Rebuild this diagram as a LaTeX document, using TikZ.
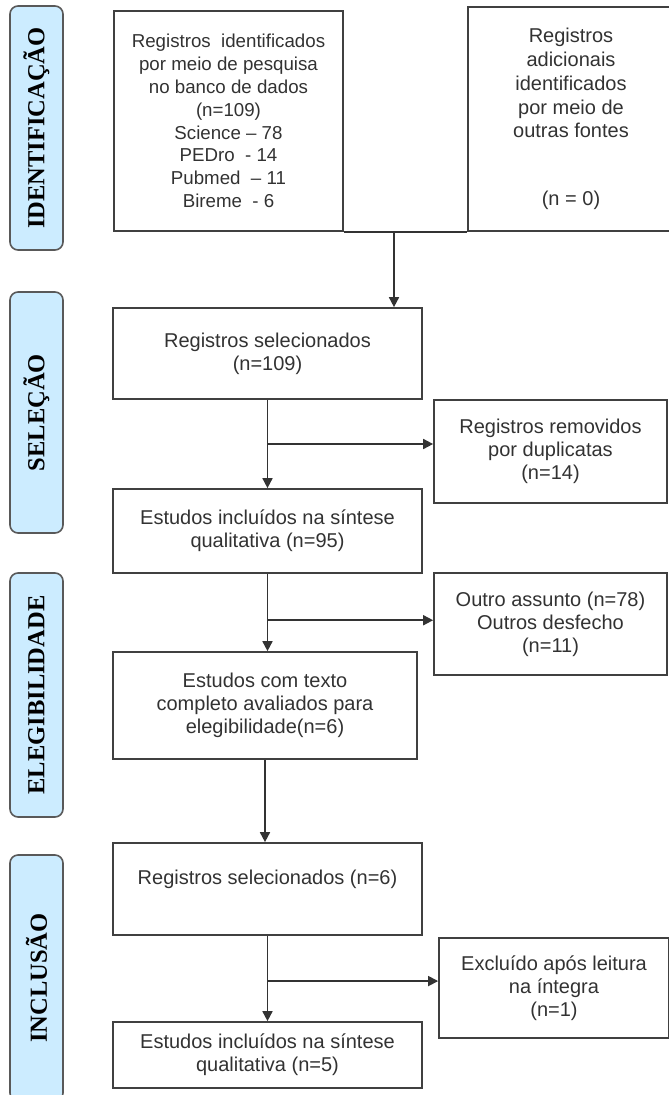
\documentclass[tikz,border=0pt]{standalone}
\usepackage{fontspec}
\setmainfont{Liberation Sans}
\newfontfamily\tabfont{Liberation Serif}
\usetikzlibrary{arrows.meta,calc}
\definecolor{tabblue}{RGB}{204,236,255}
\definecolor{txtgray}{RGB}{50,50,50}
\begin{document}
\begin{tikzpicture}[x=1pt,y=-1pt,>={Triangle[length=10pt,width=10pt]},
    box/.style={draw=black!75,line width=1.7pt,align=center,text=txtgray,font=\fontsize{20}{23}\selectfont},
    phase/.style={draw=black!65,line width=1.6pt,fill=tabblue,rounded corners=8pt,rotate=90,
        minimum height=53,font=\tabfont\bfseries\fontsize{24.5}{26}\selectfont}]
\clip (0,0) rectangle (669,1095);
% fases
\foreach \t/\y/\h [count=\i] in {IDENTIFICAÇÃO/128/244, SELEÇÃO/412.5/241, ELEGIBILIDADE/695/244, INCLUSÃO/978/246}
{
    \node[phase,minimum width=\h] (phase\i) at (36.5,\y) {\t};
}
% identificacao
\node[box,minimum width=229,minimum height=220,font=\fontsize{18.7}{22.8}\selectfont] (db) at (228.5,121)
    {Registros~ identificados\\ por meio de pesquisa\\ no banco de dados\\ (n=109)\\ Science – 78\\ PEDro~ - 14\\ Pubmed~ – 11\\ Bireme~ - 6};
\node[box,minimum width=206,minimum height=224,font=\fontsize{20}{23.8}\selectfont] (extra) at (571,119)
    {Registros\\ adicionais\\ identificados\\ por meio de\\ outras fontes\\[44pt] (n = 0)};
% selecao
\node[box,minimum width=309,minimum height=91] (sel1) at (267.5,353.5) {Registros selecionados\\ (n=109)};
\node[box,minimum width=233,minimum height=103] (rem) at (550.5,451.5) {Registros removidos\\ por duplicatas\\ (n=14)};
\node[box,minimum width=309,minimum height=84] (inc1) at (267.5,531) {Estudos incluídos na síntese\\ qualitativa (n=95)};
% elegibilidade
\node[box,minimum width=233,minimum height=102] (outro) at (550.5,624) {Outro assunto (n=78)\\ Outros desfecho\\ (n=11)};
\node[box,minimum width=304,minimum height=107] (elig) at (265,705.5) {Estudos com texto\\ completo avaliados para\\ elegibilidade(n=6)};
% inclusao
\node[box,minimum width=309,minimum height=92] (sel2) at (267.5,889) {Registros selecionados (n=6)\\ \mbox{}};
\node[box,minimum width=230,minimum height=100] (excl) at (554,988) {Excluído após leitura\\ na íntegra\\ (n=1)};
\node[box,minimum width=309,minimum height=66] (inc2) at (267.5,1055) {Estudos incluídos na síntese\\ qualitativa (n=5)};

\begin{scope}[draw=black!80,line width=1.7pt]
\draw (db.south east)--(extra.south west);
\coordinate (j0) at (394,231);
\draw[->] (j0)--(j0 |- sel1.north);
\draw[->] (sel1.south)--(inc1.north);
\coordinate (j1) at ($(sel1.south)!.5!(inc1.north)$);
\draw[->] (j1)--(j1 -| rem.west);
\draw[->] (inc1.south)--(inc1.south |- elig.north);
\coordinate (j2) at ($(inc1.south)!.6!(inc1.south |- elig.north)$);
\draw[->] (j2)--(j2 -| outro.west);
\draw[->] (elig.south)--(elig.south |- sel2.north);
\draw[->] (sel2.south)--(inc2.north);
\coordinate (j3) at ($(sel2.south)!.53!(inc2.north)$);
\draw[->] (j3)--(j3 -| excl.west);
\end{scope}
\end{tikzpicture}
\end{document}
